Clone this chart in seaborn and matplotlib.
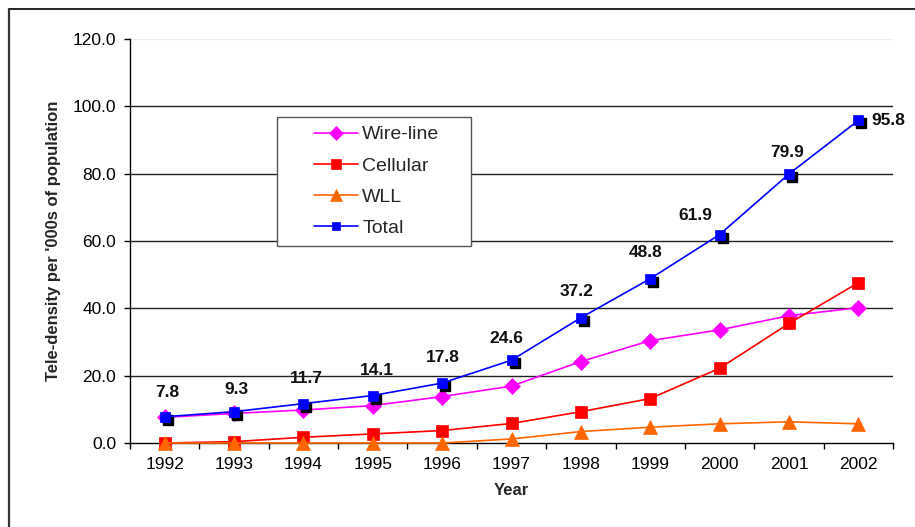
import matplotlib
matplotlib.use("Agg")
import matplotlib.pyplot as plt
import matplotlib.transforms as mtransforms
from matplotlib.lines import Line2D
from matplotlib.patches import Rectangle
import numpy as np
import pandas as pd
import seaborn as sns

# Tele-density per '000s of population, by year
years = [1992, 1993, 1994, 1995, 1996, 1997, 1998, 1999, 2000, 2001, 2002]
wire_line = [7.6, 8.8, 9.8, 11.1, 13.8, 16.9, 24.2, 30.4, 33.6, 37.8, 40.2]
cellular = [0.0, 0.4, 1.7, 2.7, 3.7, 5.8, 9.3, 13.2, 22.2, 35.5, 47.6]
wll = [0.0, 0.0, 0.0, 0.0, 0.0, 1.2, 3.4, 4.7, 5.7, 6.3, 5.7]
total = [7.8, 9.3, 11.7, 14.1, 17.8, 24.6, 37.2, 48.8, 61.9, 79.9, 95.8]

y_ticks = [0, 20, 40, 60, 80, 100, 120]

# label placement (pixel offsets from each Total point)
label_dx = [3, 2, 3, 4, 1, -5, -4, -5, -24, -2, 13]
label_dy = [24, 22, 25, 25, 26, 22, 26, 26, 19, 22, 0]

sns.set_theme(style="white")
plt.rcParams["font.family"] = ["Liberation Sans", "DejaVu Sans"]

W, H = 915, 527
fig = plt.figure(figsize=(W / 100, H / 100), dpi=100)
ax = fig.add_axes([130 / W, 1 - 443 / H, (893 - 130) / W, (443 - 39) / H])

df = pd.DataFrame({"Year": years, "Wire-line": wire_line, "Cellular": cellular,
                   "WLL": wll, "Total": total})

series = [
    ("Wire-line", "#FF00FF", "D", 8.0),
    ("Cellular", "#FF0000", "s", 9.0),
    ("WLL", "#FF6600", "^", 10.0),
]
for name, color, marker, ms in series:
    sns.lineplot(data=df, x="Year", y=name, ax=ax, color=color, marker=marker,
                 markersize=ms, markeredgecolor=color, markeredgewidth=0.5,
                 linewidth=1.2, label=name, zorder=3, clip_on=False)

# drop shadow behind the Total markers
shadow = mtransforms.offset_copy(ax.transData, fig=fig, x=3, y=-3, units="dots")
ax.plot(df["Year"], df["Total"], linestyle="none", marker="s", markersize=6.5,
        color="black", transform=shadow, zorder=3.5)
sns.lineplot(data=df, x="Year", y="Total", ax=ax, color="#0000FF", marker="s",
             markersize=6.5, markeredgecolor="#0000FF", markeredgewidth=0.5,
             linewidth=1.2, label="Total", zorder=4)

for i, (yr, v) in enumerate(zip(years, total)):
    ha = "left" if i == len(years) - 1 else "center"
    ax.annotate(f"{v:.1f}", (yr, v), xytext=(label_dx[i], label_dy[i]),
                textcoords="offset pixels", ha=ha, va="center",
                fontsize=12.5, fontweight="bold", color="#111111", zorder=6)

ax.set_xlim(years[0] - 0.5, years[-1] + 0.5)
ax.set_ylim(0, 120)
ax.set_xticks(years)
ax.set_xticklabels([str(y) for y in years])
ax.set_xticks(np.arange(years[0] - 0.5, years[-1] + 1.0, 1.0), minor=True)
ax.set_yticks(y_ticks)
ax.set_yticklabels([f"{t:.1f}" for t in y_ticks])

for t in y_ticks[1:-1]:
    ax.axhline(t, color="#222222", linewidth=1.0, zorder=1)
ax.axhline(120, color="#eeeeee", linewidth=1.0, zorder=1)

for side in ["top", "right"]:
    ax.spines[side].set_visible(False)
for side in ["left", "bottom"]:
    ax.spines[side].set_color("black")
    ax.spines[side].set_linewidth(1.0)
    ax.spines[side].set_zorder(2)

ax.tick_params(axis="x", which="major", length=0, pad=10, labelsize=12.5, colors="black")
ax.tick_params(axis="x", which="minor", length=4, width=1, color="black", direction="out", bottom=True)
ax.tick_params(axis="y", which="major", length=4, width=1, color="black", direction="out",
               left=True, pad=6, labelsize=12.5, labelcolor="black")

ax.set_xlabel("Year", fontsize=12, fontweight="bold", labelpad=8)
ax.set_ylabel("Tele-density per '000s of population", fontsize=12, fontweight="bold", labelpad=8)

# legend: framed box with the entries inset from its left edge
ax.add_patch(Rectangle((277 / W, 1 - 246 / H), 194 / W, 129 / H,
                       transform=fig.transFigure, facecolor="white",
                       edgecolor="#555555", linewidth=1.0, zorder=5, clip_on=False))
handles, labels = ax.get_legend_handles_labels()
leg = ax.legend(handles, labels, loc="upper left", bbox_to_anchor=(304 / W, 1 - 116 / H),
                bbox_transform=fig.transFigure, frameon=False, fontsize=14, markerscale=0.85,
                handlelength=2.3, handletextpad=0.2, labelspacing=0.7, borderpad=0.0)
leg.set_zorder(7)

# outer frame along the top and left edges
fig.add_artist(Line2D([9 / W, 1.0], [1 - 9 / H, 1 - 9 / H], color="black", linewidth=1.2,
                      transform=fig.transFigure))
fig.add_artist(Line2D([9 / W, 9 / W], [0.0, 1 - 9 / H], color="#333333", linewidth=1.6,
                      transform=fig.transFigure))

fig.savefig("out.png", dpi=100, facecolor="white")
